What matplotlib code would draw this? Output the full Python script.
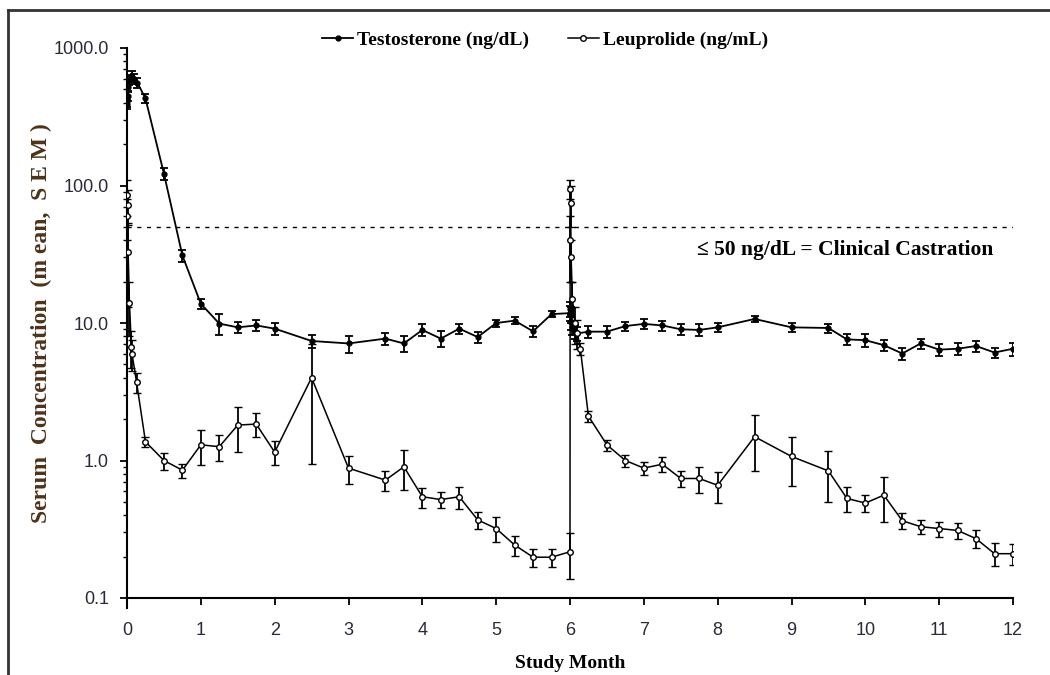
import numpy as np
import matplotlib.pyplot as plt
from matplotlib.lines import Line2D
from matplotlib.ticker import FixedLocator, FormatStrFormatter, LogLocator, NullFormatter

# Testosterone (ng/dL), mean and SEM
t_testo = [0, 0.003, 0.007, 0.014, 0.033, 0.067, 0.1, 0.14, 0.25, 0.5, 0.75, 1.0,
           1.25, 1.5, 1.75, 2.0, 2.5, 3.0, 3.5, 3.75, 4.0, 4.25, 4.5, 4.75, 5.0,
           5.25, 5.5, 5.75, 6.0, 6.003, 6.007, 6.014, 6.033, 6.067, 6.1, 6.25,
           6.5, 6.75, 7.0, 7.25, 7.5, 7.75, 8.0, 8.5, 9.0, 9.5, 9.75, 10.0, 10.25,
           10.5, 10.75, 11.0, 11.25, 11.5, 11.75, 12.0]
testo = [390, 410, 450, 520, 590, 620, 600, 560, 430, 122, 31, 13.8,
         9.9, 9.3, 9.6, 9.1, 7.4, 7.1, 7.7, 7.1, 8.9, 7.7, 9.1, 7.9, 10.0,
         10.4, 8.7, 11.6, 11.8, 12.6, 11.5, 10.2, 9.3, 8.6, 8.4, 8.65,
         8.65, 9.5, 9.85, 9.6, 9.0, 8.9, 9.3, 10.7, 9.3, 9.2, 7.6, 7.5, 6.9,
         6.0, 7.1, 6.4, 6.5, 6.8, 6.1, 6.5]
testo_sem = [30, 35, 40, 45, 50, 55, 50, 45, 30, 12, 3, 1.2,
             1.7, 0.8, 0.9, 0.9, 0.8, 1.0, 0.8, 0.9, 0.9, 1.0, 0.8, 0.7, 0.6,
             0.6, 0.8, 0.6, 1.5, 1.6, 1.5, 1.3, 1.1, 1.0, 1.0, 0.9,
             0.9, 0.7, 0.8, 0.8, 0.8, 0.9, 0.7, 0.6, 0.7, 0.7, 0.7, 0.8, 0.6,
             0.6, 0.6, 0.6, 0.6, 0.6, 0.5, 0.7]

# Leuprolide (ng/mL), mean and SEM
t_leup = [0.002, 0.004, 0.008, 0.015, 0.033, 0.06, 0.067, 0.13, 0.25, 0.5, 0.75,
          1.0, 1.25, 1.5, 1.75, 2.0, 2.5, 3.0, 3.5, 3.75, 4.0, 4.25, 4.5, 4.75,
          5.0, 5.25, 5.5, 5.75, 6.0, 6.002, 6.004, 6.008, 6.015, 6.033, 6.067,
          6.1, 6.14, 6.25, 6.5, 6.75, 7.0, 7.25, 7.5, 7.75, 8.0, 8.5, 9.0, 9.5,
          9.75, 10.0, 10.25, 10.5, 10.75, 11.0, 11.25, 11.5, 11.75, 12.0]
leup = [60, 85, 72, 33, 14, 6.7, 6.0, 3.7, 1.37, 1.0, 0.85,
        1.3, 1.26, 1.81, 1.84, 1.15, 4.0, 0.88, 0.72, 0.90, 0.545, 0.52, 0.545, 0.37,
        0.32, 0.243, 0.198, 0.198, 0.217, 40, 95, 75, 30, 15, 10,
        8.5, 6.5, 2.1, 1.3, 1.0, 0.88, 0.94, 0.74, 0.74, 0.66, 1.49, 1.07, 0.84,
        0.53, 0.49, 0.56, 0.365, 0.33, 0.32, 0.31, 0.27, 0.21, 0.21]
leup_sem = [20, 25, 20, 20, 6, 2, 1.5, 0.6, 0.12, 0.14, 0.1,
            0.37, 0.27, 0.65, 0.36, 0.23, 3.05, 0.2, 0.12, 0.29, 0.09, 0.07, 0.1, 0.05,
            0.065, 0.04, 0.03, 0.03, 0.08, 20, 15, 25, 10, 5, 3,
            2, 0.6, 0.2, 0.12, 0.1, 0.1, 0.12, 0.1, 0.16, 0.17, 0.65, 0.42, 0.34,
            0.11, 0.07, 0.2, 0.05, 0.04, 0.04, 0.04, 0.04, 0.04, 0.035]

castration_level = 50
x_ticks = list(range(0, 13))
y_ticks = [0.1, 1, 10, 100, 1000]

serif = 'Liberation Serif'
sans = 'Liberation Sans'


def asym_err(mean, sem):
    mean = np.array(mean, dtype=float)
    sem = np.array(sem, dtype=float)
    lower = np.minimum(sem, mean * 0.999)
    return [lower, sem]


fig = plt.figure(figsize=(10.5, 6.75), dpi=100)
ax = fig.add_axes([127 / 1050, 1 - 598 / 675, (1013 - 127) / 1050, (598 - 48) / 675])

ax.errorbar(t_testo, testo, yerr=asym_err(testo, testo_sem), color='black', lw=1.3,
            marker='o', ms=3.5, mfc='black', mec='black', ecolor='black',
            elinewidth=1.3, capsize=3, capthick=1.3, zorder=3)
ax.errorbar(t_leup, leup, yerr=asym_err(leup, leup_sem), color='black', lw=1.1,
            marker='o', ms=4, mfc='white', mec='black', mew=1, ecolor='black',
            elinewidth=1.3, capsize=3, capthick=1.3, zorder=3)

ax.axhline(castration_level, color='black', lw=1, ls=(0, (3, 4)), zorder=1)
ax.text(11.73, 34, '≤ 50 ng/dL = Clinical Castration', ha='right', va='center',
        fontsize=15.5, fontweight='bold', family=serif)

ax.set_yscale('log')
ax.set_ylim(0.1, 1000)
ax.set_xlim(0, 12)
ax.yaxis.set_major_locator(FixedLocator(y_ticks))
ax.yaxis.set_major_formatter(FormatStrFormatter('%.1f'))
ax.yaxis.set_minor_locator(LogLocator(base=10, subs=np.arange(2, 10)))
ax.yaxis.set_minor_formatter(NullFormatter())
ax.set_xticks(x_ticks)

for s in ['top', 'right']:
    ax.spines[s].set_visible(False)
for s in ['left', 'bottom']:
    ax.spines[s].set_linewidth(1.5)
ax.spines['left'].set_bounds(0.085, 1000)

ax.tick_params(axis='both', which='major', length=5, width=1.3, labelsize=13,
               colors='black')
ax.tick_params(axis='y', which='minor', length=3, width=1)
ax.tick_params(axis='x', pad=12)
ax.tick_params(axis='y', pad=8)
for lab in ax.get_xticklabels() + ax.get_yticklabels():
    lab.set_family(sans)
    lab.set_color('#2a2a3a')

ax.set_xlabel('Study Month', fontsize=14, fontweight='bold', family=serif, labelpad=12)
ax.set_ylabel('Serum  Concentration  (m ean,  S E M )', fontsize=17, fontweight='bold',
              family=serif, color='#4d3319', labelpad=1)

handles = [
    Line2D([], [], color='black', lw=1.3, marker='o', ms=3.5, mfc='black'),
    Line2D([], [], color='black', lw=1.1, marker='o', ms=4, mfc='white', mec='black'),
]
fig.legend(handles, ['Testosterone (ng/dL)', 'Leuprolide (ng/mL)'],
           loc='center', bbox_to_anchor=(545 / 1050, 1 - 40 / 675), ncol=2,
           frameon=False, handlelength=1.6, handletextpad=0.2, columnspacing=2.0,
           prop={'family': serif, 'weight': 'bold', 'size': 14})

# border of the cropped figure: top and left lines only
fig.add_artist(Line2D([8 / 1050, 1], [1 - 10 / 675, 1 - 10 / 675],
                      transform=fig.transFigure, color='#333333', lw=2))
fig.add_artist(Line2D([8 / 1050, 8 / 1050], [0, 1 - 10 / 675],
                      transform=fig.transFigure, color='#333333', lw=2))

fig.savefig('out.png', dpi=100)
